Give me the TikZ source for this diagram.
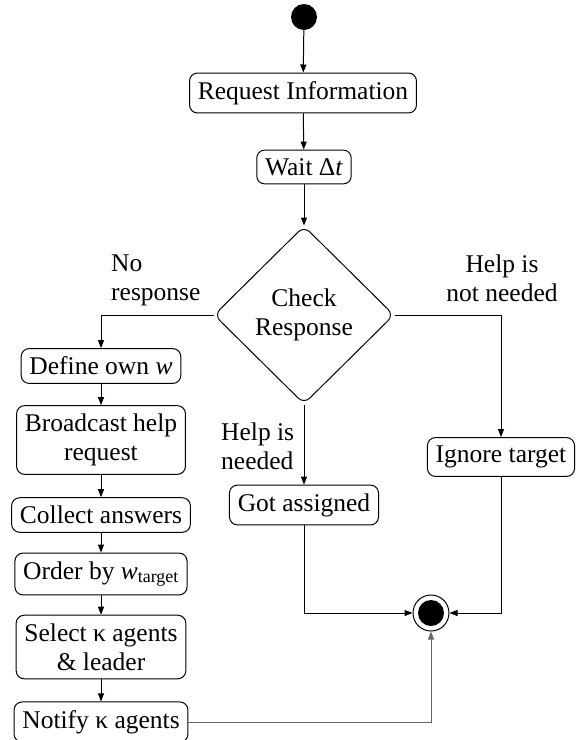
\documentclass[tikz,border=0pt]{standalone}
\usepackage{fontspec}
\setmainfont{Liberation Serif}
\usetikzlibrary{shapes.geometric,arrows.meta}
\begin{document}
\begin{tikzpicture}[x=1pt,y=-1pt,
  font=\fontsize{25.5}{29}\selectfont,
  box/.style={draw,rounded corners=8pt,inner sep=8.3pt,line width=1pt,align=center},
  arr/.style={-{Triangle[length=8pt,width=6pt]},line width=1pt},
  lbl/.style={inner sep=0pt}]
\useasboundingbox (0,0) rectangle (580,740);
% nodes
\node[circle,fill,minimum size=26pt,inner sep=0] (start) at (304,17) {};
\node[box] (req) at (303,93) {Request Information};
\node[box] (wait) at (304,167) {Wait Δ\textit{t}};
\node[draw,diamond,minimum width=180pt,minimum height=178pt,inner sep=0,
      rounded corners=8pt,line width=1pt,align=center] (check) at (304,315) {Check\\Response};
\node[box] (def) at (101,366) {Define own \textit{w}};
\node[box] (bro) at (101,440) {Broadcast help\\request};
\node[box] (col) at (101,515) {Collect answers};
\node[box] (ord) at (101,574) {Order by \textit{w}\textsubscript{target}};
\node[box] (sel) at (101,647) {Select κ agents\\\& leader};
\node[box] (notif) at (101,722) {Notify κ agents};
\node[box] (got) at (304,505) {Got assigned};
\node[box] (ign) at (501,457) {Ignore target};
\node[circle,draw,minimum size=36pt,inner sep=0,line width=1pt] (end) at (431,613) {};
\node[circle,fill,minimum size=26pt,inner sep=0] (endin) at (end.center) {};
% labels
\node[lbl,align=left,anchor=north west] (nores) at (111,255) {No\\response};
\node[lbl,align=center,anchor=north] (notneeded) at (502,255) {Help is\\not needed};
\node[lbl,align=left,anchor=north west] (needed) at (221,423) {Help is\\needed};
% connectors
\draw[arr] (start) -- (req);
\draw[arr] (req) -- (wait);
\draw[arr] (wait) -- (check.north);
\draw[arr] (check.west) -| (def.north);
\draw[arr] (check.east) -| (ign.north);
\draw[arr] (check.south) -- (got.north);
\draw[arr] (def) -- (bro);
\draw[arr] (bro) -- (col);
\draw[arr] (col) -- (ord);
\draw[arr] (ord) -- (sel);
\draw[arr] (sel) -- (notif);
\draw[arr] (got) |- (end);
\draw[arr] (ign) |- (end);
\draw[arr,black!60] (notif) -| (end);
\end{tikzpicture}
\end{document}
